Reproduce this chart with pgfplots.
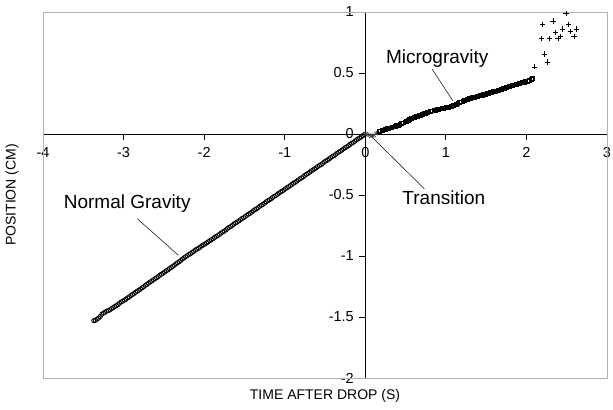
\documentclass[border=0pt]{standalone}
\usepackage{fontspec}
\setmainfont{Liberation Sans}
\usepackage{pgfplots}
\pgfplotsset{compat=1.18}

\begin{document}
\begin{tikzpicture}
\begin{axis}[
  scale only axis, width=564pt, height=366pt,
  xmin=-4, xmax=3, ymin=-2, ymax=1,
  axis lines=middle,
  axis line style={-, black, line width=0.8pt},
  xtick={-4,-3,-2,-1,0,1,2,3},
  ytick={-2,-1.5,-1,-0.5,0,0.5,1},
  hide obscured x ticks=false, hide obscured y ticks=false,
  tick align=outside,
  major tick length=6pt,
  tick style={black, line width=0.8pt},
  /pgf/number format/assume math mode=true,
  tick label style={font=\fontsize{14.5}{16}\selectfont},
  x tick label style={yshift=-4pt},
  y tick label style={xshift=-2pt},
  clip=false,
]
\coordinate (sw) at (rel axis cs:0,0);
\coordinate (ne) at (rel axis cs:1,1);
\draw[gray!60, line width=0.8pt] (rel axis cs:0,0) rectangle (rel axis cs:1,1);

% normal gravity
\addplot[only marks, mark=o, mark size=2.1pt, mark options={line width=0.8pt}, black] coordinates {
(-3.37,-1.530) (-3.35,-1.528) (-3.33,-1.517) (-3.31,-1.509) (-3.29,-1.496) (-3.27,-1.478) (-3.25,-1.468) (-3.23,-1.461) (-3.21,-1.452)
(-3.19,-1.448) (-3.17,-1.441) (-3.15,-1.431) (-3.13,-1.424) (-3.11,-1.414) (-3.09,-1.407) (-3.07,-1.399) (-3.05,-1.388) (-3.03,-1.377) (-3.01,-1.370)
(-2.99,-1.362) (-2.97,-1.354) (-2.95,-1.343) (-2.93,-1.336) (-2.91,-1.324) (-2.89,-1.316) (-2.87,-1.307) (-2.85,-1.297) (-2.83,-1.288) (-2.81,-1.281)
(-2.79,-1.271) (-2.77,-1.260) (-2.75,-1.252) (-2.73,-1.241) (-2.71,-1.233) (-2.69,-1.223) (-2.67,-1.213) (-2.65,-1.205) (-2.63,-1.195) (-2.61,-1.186)
(-2.59,-1.178) (-2.57,-1.169) (-2.55,-1.158) (-2.53,-1.149) (-2.51,-1.141) (-2.49,-1.131) (-2.47,-1.121) (-2.45,-1.114) (-2.43,-1.103) (-2.41,-1.094)
(-2.39,-1.086) (-2.37,-1.076) (-2.35,-1.064) (-2.33,-1.055) (-2.31,-1.047) (-2.29,-1.037) (-2.27,-1.025) (-2.25,-1.015) (-2.23,-1.006) (-2.21,-0.997)
(-2.19,-0.988) (-2.17,-0.981) (-2.15,-0.971) (-2.13,-0.963) (-2.11,-0.952) (-2.09,-0.944) (-2.07,-0.937) (-2.05,-0.928) (-2.03,-0.917) (-2.01,-0.909)
(-1.99,-0.902) (-1.97,-0.893) (-1.95,-0.884) (-1.93,-0.875) (-1.91,-0.867) (-1.89,-0.858) (-1.87,-0.848) (-1.85,-0.839) (-1.83,-0.832) (-1.81,-0.823)
(-1.79,-0.812) (-1.77,-0.803) (-1.75,-0.796) (-1.73,-0.786) (-1.71,-0.774) (-1.69,-0.765) (-1.67,-0.758) (-1.65,-0.749) (-1.63,-0.738) (-1.61,-0.729)
(-1.59,-0.722) (-1.57,-0.713) (-1.55,-0.702) (-1.53,-0.693) (-1.51,-0.686) (-1.49,-0.677) (-1.47,-0.666) (-1.45,-0.657) (-1.43,-0.650) (-1.41,-0.641)
(-1.39,-0.629) (-1.37,-0.620) (-1.35,-0.613) (-1.33,-0.604) (-1.31,-0.593) (-1.29,-0.584) (-1.27,-0.577) (-1.25,-0.567) (-1.23,-0.556) (-1.21,-0.547)
(-1.19,-0.540) (-1.17,-0.531) (-1.15,-0.520) (-1.13,-0.511) (-1.11,-0.504) (-1.09,-0.495) (-1.07,-0.484) (-1.05,-0.475) (-1.03,-0.468) (-1.01,-0.459)
(-0.99,-0.448) (-0.97,-0.439) (-0.95,-0.432) (-0.93,-0.423) (-0.91,-0.412) (-0.89,-0.403) (-0.87,-0.396) (-0.85,-0.387) (-0.83,-0.376) (-0.81,-0.367)
(-0.79,-0.360) (-0.77,-0.351) (-0.75,-0.339) (-0.73,-0.330) (-0.71,-0.323) (-0.69,-0.314) (-0.67,-0.303) (-0.65,-0.294) (-0.63,-0.287) (-0.61,-0.278)
(-0.59,-0.267) (-0.57,-0.258) (-0.55,-0.251) (-0.53,-0.242) (-0.51,-0.230) (-0.49,-0.221) (-0.47,-0.214) (-0.45,-0.205) (-0.43,-0.194) (-0.41,-0.185)
(-0.39,-0.178) (-0.37,-0.169) (-0.35,-0.158) (-0.33,-0.149) (-0.31,-0.141) (-0.29,-0.132) (-0.27,-0.121) (-0.25,-0.112) (-0.23,-0.105) (-0.21,-0.096)
(-0.19,-0.085) (-0.17,-0.076) (-0.15,-0.069) (-0.13,-0.060) (-0.11,-0.049) (-0.09,-0.040) (-0.07,-0.033) (-0.05,-0.024) (-0.03,-0.013) (-0.01,-0.004)
};

% transition
\addplot[only marks, mark=x, mark size=2.4pt, mark options={line width=0.7pt}, black!75] coordinates {
(0.01,0.002) (0.03,-0.004) (0.05,-0.010) (0.07,-0.018) (0.09,-0.016) (0.11,-0.010) (0.13,0.004) (0.15,0.012)
};

% microgravity
\addplot[only marks, mark=square, mark size=1.9pt, mark options={line width=0.7pt}, black] coordinates {
(0.17,0.020) (0.19,0.026) (0.21,0.031) (0.23,0.034) (0.25,0.038) (0.27,0.043) (0.29,0.046) (0.31,0.050) (0.33,0.054)
(0.35,0.058) (0.37,0.063) (0.39,0.068) (0.41,0.073) (0.43,0.080) (0.45,0.086) (0.47,0.092) (0.49,0.099) (0.51,0.106) (0.53,0.113)
(0.55,0.121) (0.57,0.128) (0.59,0.133) (0.61,0.138) (0.63,0.143) (0.65,0.147) (0.67,0.152) (0.69,0.156) (0.71,0.161) (0.73,0.166)
(0.75,0.171) (0.77,0.176) (0.79,0.181) (0.81,0.186) (0.83,0.190) (0.85,0.194) (0.87,0.197) (0.89,0.200) (0.91,0.203) (0.93,0.206)
(0.95,0.208) (0.97,0.211) (0.99,0.214) (1.01,0.217) (1.03,0.220) (1.05,0.223) (1.07,0.228) (1.09,0.233) (1.11,0.239) (1.13,0.245)
(1.15,0.251) (1.17,0.257) (1.19,0.263) (1.21,0.268) (1.23,0.274) (1.25,0.280) (1.27,0.285) (1.29,0.290) (1.31,0.294) (1.33,0.298)
(1.35,0.302) (1.37,0.305) (1.39,0.309) (1.41,0.313) (1.43,0.316) (1.45,0.320) (1.47,0.324) (1.49,0.328) (1.51,0.332) (1.53,0.336)
(1.55,0.339) (1.57,0.343) (1.59,0.347) (1.61,0.351) (1.63,0.354) (1.65,0.358) (1.67,0.362) (1.69,0.367) (1.71,0.372) (1.73,0.377)
(1.75,0.382) (1.77,0.387) (1.79,0.391) (1.81,0.395) (1.83,0.398) (1.85,0.402) (1.87,0.406) (1.89,0.411) (1.91,0.415) (1.93,0.419)
(1.95,0.422) (1.97,0.426) (1.99,0.430) (2.01,0.434) (2.03,0.438) (2.04,0.442) (2.06,0.448) (2.07,0.455)
};

% scatter after microgravity
\addplot[only marks, mark=+, mark size=2.6pt, mark options={line width=0.7pt}, black] coordinates {
(2.10,0.55) (2.19,0.78) (2.20,0.90) (2.22,0.655) (2.26,0.59)
(2.29,0.78) (2.33,0.926) (2.36,0.83) (2.39,0.78) (2.42,0.80)
(2.45,0.86) (2.49,0.99) (2.52,0.90) (2.55,0.84) (2.59,0.80) (2.62,0.86)
};

% annotations
\draw[black, line width=0.5pt] (axis cs:-2.83,-0.694) -- (axis cs:-2.32,-0.994);
\node[font=\fontsize{19}{21}\selectfont] at (axis cs:-2.955,-0.572) {Normal Gravity};
\draw[black, line width=0.5pt] (axis cs:0.83,0.531) -- (axis cs:1.087,0.272);
\node[font=\fontsize{19}{21}\selectfont] at (axis cs:0.893,0.621) {Microgravity};
\draw[black, line width=0.5pt] (axis cs:0.078,-0.022) -- (axis cs:0.733,-0.449);
\node[font=\fontsize{19}{21}\selectfont] at (axis cs:0.975,-0.525) {Transition};

% axis titles
\node[font=\fontsize{14}{16}\selectfont] at ([yshift=-18pt]rel axis cs:0.5,0) {TIME AFTER DROP (S)};
\node[font=\fontsize{14}{16}\selectfont, rotate=90] at ([xshift=-31pt]rel axis cs:0,0.5) {POSITION (CM)};
\end{axis}
\pgfresetboundingbox
\path[use as bounding box] ([shift={(-43pt,-32pt)}]sw) rectangle ([shift={(6pt,12pt)}]ne);
\end{tikzpicture}
\end{document}
